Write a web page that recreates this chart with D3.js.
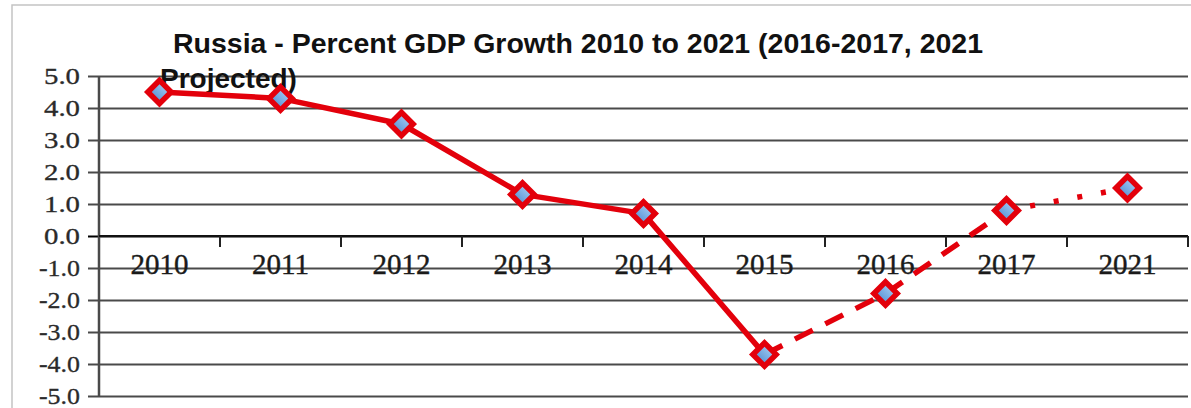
<!DOCTYPE html>
<html>
<head>
<meta charset="utf-8">
<script src="https://cdn.jsdelivr.net/npm/d3@7"></script>
<style>
  html, body { margin: 0; padding: 0; background: #fff; }
  svg { display: block; }
</style>
</head>
<body>
<div id="grafico"></div>
<script>
// datos del grafico
const years = ["2010", "2011", "2012", "2013", "2014", "2015", "2016", "2017", "2021"];
const growth = [4.5, 4.3, 3.5, 1.3, 0.7, -3.7, -1.8, 0.8, 1.5];
const yTicks = [5, 4, 3, 2, 1, 0, -1, -2, -3, -4, -5];
const titleLines = ["Russia - Percent GDP Growth 2010 to 2021 (2016-2017, 2021", "Projected)"];

// tramos: real (solido), proyectado 2016-2017 (guiones), 2021 (puntos)
const segments = [
  { from: 0, to: 5, dash: null },
  { from: 5, to: 7, dash: "20,14" },
  { from: 7, to: 8, dash: "5,19" }
];

const W = 1191, H = 408;
const margin = { top: 76, right: 3, bottom: 12, left: 99 };

const svg = d3.select("#grafico")
  .append("svg")
  .attr("width", W)
  .attr("height", H);

// borde exterior
svg.append("rect")
  .attr("x", 12).attr("y", 5)
  .attr("width", 1300).attr("height", 600)
  .attr("fill", "none")
  .attr("stroke", "#c4c4c4")
  .attr("stroke-width", 1.5);

const x = d3.scaleBand()
  .domain(years)
  .range([margin.left, W - margin.right]);

const y = d3.scaleLinear()
  .domain([-5, 5])
  .range([H - margin.bottom, margin.top]);

// lineas de grilla + etiquetas eje y
svg.append("g")
  .attr("transform", `translate(${margin.left},0)`)
  .call(d3.axisLeft(y)
    .tickValues(yTicks)
    .tickSize(-(W - margin.right - margin.left))
    .tickPadding(0)
    .tickFormat(d => d.toFixed(1)))
  .call(g => g.select(".domain").remove())
  .call(g => g.selectAll(".tick line")
    .attr("x1", -11)
    .attr("stroke", d => d === 0 ? "#000" : "#4a4a4a")
    .attr("stroke-width", 2.2))
  .call(g => g.selectAll(".tick text")
    .attr("x", -19)
    .attr("font-family", "'Liberation Serif', 'Times New Roman', serif")
    .attr("font-size", "23px")
    .attr("fill", "#2a2a2a")
    .attr("stroke", "#2a2a2a")
    .attr("stroke-width", 0.3)
    .attr("textLength", d => d < 0 ? 41 : 36)
    .attr("lengthAdjust", "spacingAndGlyphs"));

// eje y vertical
svg.append("line")
  .attr("x1", margin.left).attr("x2", margin.left)
  .attr("y1", y(5)).attr("y2", y(-5))
  .attr("stroke", "#4a4a4a")
  .attr("stroke-width", 2.5);

// eje x en cero
const xAxis = svg.append("g")
  .attr("transform", `translate(0,${y(0)})`);

xAxis.append("line")
  .attr("x1", margin.left).attr("x2", W - margin.right)
  .attr("stroke", "#111").attr("stroke-width", 2.2);

xAxis.selectAll(".xtick")
  .data(years.slice(1).concat(["__end"]))
  .enter()
  .append("line")
  .attr("class", "xtick")
  .attr("x1", d => d === "__end" ? W - margin.right : x(d))
  .attr("x2", d => d === "__end" ? W - margin.right : x(d))
  .attr("y1", 0).attr("y2", 11)
  .attr("stroke", "#222").attr("stroke-width", 2);

xAxis.selectAll(".xlabel")
  .data(years)
  .enter()
  .append("text")
  .attr("class", "xlabel")
  .attr("x", d => x(d) + x.bandwidth() / 2)
  .attr("y", 38)
  .attr("text-anchor", "middle")
  .attr("font-family", "'Liberation Serif', 'Times New Roman', serif")
  .attr("font-size", "29px")
  .attr("fill", "#1a1a1a")
  .attr("stroke", "#1a1a1a")
  .attr("stroke-width", 0.4)
  .text(d => d);

// titulo
svg.append("text")
  .attr("x", 173).attr("y", 53)
  .attr("font-family", "'Liberation Sans', Arial, sans-serif")
  .attr("font-weight", "bold")
  .attr("font-size", "28px")
  .attr("fill", "#111")
  .attr("textLength", 810)
  .attr("lengthAdjust", "spacingAndGlyphs")
  .text(titleLines[0]);

svg.append("text")
  .attr("x", 160).attr("y", 88)
  .attr("font-family", "'Liberation Sans', Arial, sans-serif")
  .attr("font-weight", "bold")
  .attr("font-size", "28px")
  .attr("fill", "#111")
  .text(titleLines[1]);

// lineas
const puntos = years.map((yr, i) => ({ year: yr, value: growth[i] }));
const linea = d3.line()
  .x(d => x(d.year) + x.bandwidth() / 2)
  .y(d => y(d.value));

segments.forEach(s => {
  svg.append("path")
    .datum(puntos.slice(s.from, s.to + 1))
    .attr("d", linea)
    .attr("fill", "none")
    .attr("stroke", "#e3000b")
    .attr("stroke-width", 5.5)
    .attr("stroke-linejoin", "round")
    .attr("stroke-dasharray", s.dash);
});

// marcadores
const defs = svg.append("defs");
const grad = defs.append("linearGradient")
  .attr("id", "azul")
  .attr("x1", "0").attr("y1", "0").attr("x2", "0").attr("y2", "1");
grad.append("stop").attr("offset", "0%").attr("stop-color", "#9cc6f0");
grad.append("stop").attr("offset", "100%").attr("stop-color", "#5b95d6");

svg.selectAll(".marker")
  .data(puntos)
  .enter()
  .append("path")
  .attr("class", "marker")
  .attr("d", d3.symbol().type(d3.symbolSquare).size(270))
  .attr("transform", d => `translate(${x(d.year) + x.bandwidth() / 2},${y(d.value)}) rotate(45)`)
  .attr("fill", "url(#azul)")
  .attr("stroke", "#e3000b")
  .attr("stroke-width", 5.5);
</script>
</body>
</html>
